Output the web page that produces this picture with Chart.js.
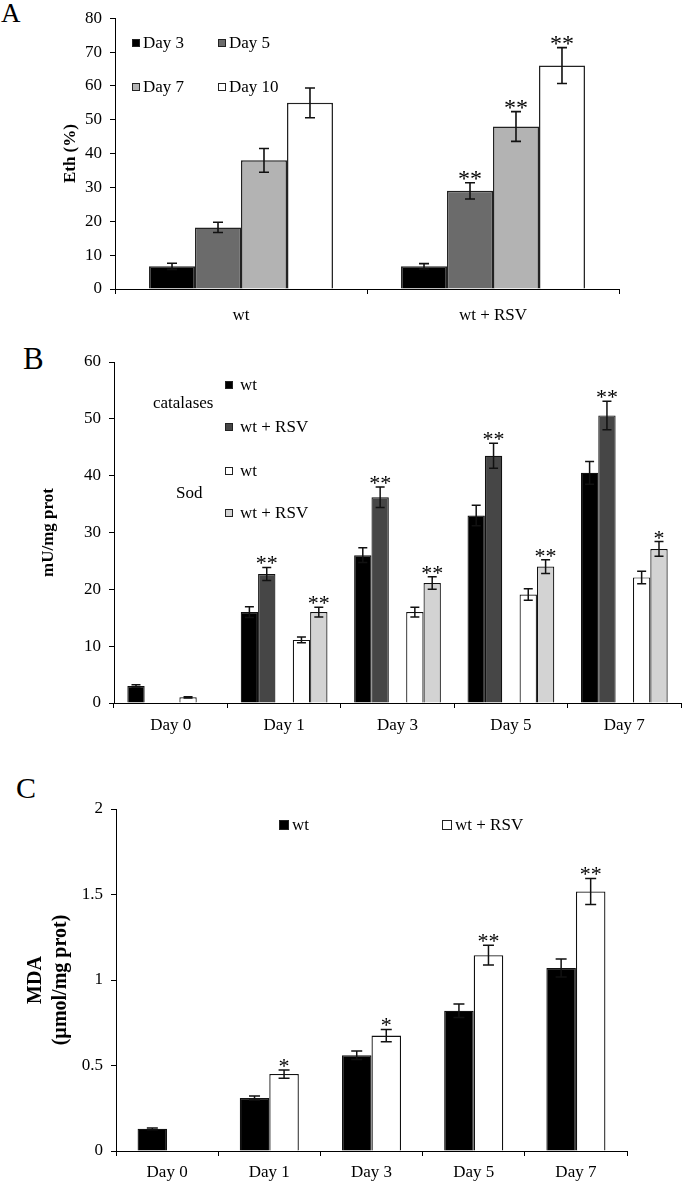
<!DOCTYPE html>
<html>
<head>
<meta charset="utf-8">
<script src="https://cdn.jsdelivr.net/npm/chart.js@4.4.1/dist/chart.umd.min.js"></script>
<style>
  body { margin: 0; background: #fff; }
  #page { position: relative; width: 683px; height: 1181px; overflow: hidden;
          font-family: "Liberation Serif", "Times New Roman", serif; color: #000; }
  canvas { position: absolute; left: 0; }
  .letter { position: absolute; line-height: 1; }
  .lg { position: absolute; display: flex; align-items: center; height: 20px;
        font-size: 17px; line-height: 20px; white-space: nowrap; }
  .sw { display: inline-block; box-sizing: border-box; border: 1px solid #222; }
  .note { position: absolute; font-size: 17px; line-height: 20px; white-space: nowrap; }
</style>
</head>
<body>
<div id="page">
  <div class="letter" style="left:1px;top:0px;font-size:27px;">A</div>
  <div class="letter" style="left:23px;top:343px;font-size:31px;">B</div>
  <div class="letter" style="left:16px;top:773px;font-size:30px;">C</div>
  <canvas id="chartA" width="683" height="330" style="top:0px"></canvas>
  <canvas id="chartB" width="683" height="405" style="top:335px"></canvas>
  <canvas id="chartC" width="683" height="436" style="top:745px"></canvas>
</div>
<script>
// ---------------------------------------------------------------------------
// Datos
// ---------------------------------------------------------------------------

// Panel A: Eth (%)
var aGroups = ['wt', 'wt + RSV'];
var aSeries = ['Day 3', 'Day 5', 'Day 7', 'Day 10'];
var aDay3 = [6.7, 6.7];
var aDay5 = [18.2, 29.0];
var aDay7 = [38.0, 48.0];
var aDay10 = [55.0, 66.0];
var aDay3Err = [0.9, 0.8];
var aDay5Err = [1.5, 2.4];
var aDay7Err = [3.5, 4.4];
var aDay10Err = [4.4, 5.3];
var aDay3Sig = ['', ''];
var aDay5Sig = ['', '**'];
var aDay7Sig = ['', '**'];
var aDay10Sig = ['', '**'];

// Panel B: mU/mg prot
var bDays = ['Day 0', 'Day 1', 'Day 3', 'Day 5', 'Day 7'];
var catWt = [3.0, 16.0, 26.0, 33.0, 40.5];
var catWtErr = [0.2, 0.95, 1.3, 1.8, 2.0];
var catRsv = [null, 22.7, 36.2, 43.5, 50.6];
var catRsvErr = [null, 1.15, 1.8, 2.2, 2.5];
var catRsvSig = ['', '**', '**', '**', '**'];
var sodWt = [1.0, 11.1, 16.0, 19.1, 22.1];
var sodWtErr = [0.1, 0.5, 0.85, 1.0, 1.1];
var sodRsv = [null, 16.0, 21.1, 24.0, 27.1];
var sodRsvErr = [null, 0.85, 1.1, 1.2, 1.3];
var sodRsvSig = ['', '**', '**', '**', '*'];

// Panel C: MDA (µmol/mg prot)
var cDays = ['Day 0', 'Day 1', 'Day 3', 'Day 5', 'Day 7'];
var mdaWt = [0.13, 0.31, 0.56, 0.82, 1.07];
var mdaWtErr = [0.005, 0.012, 0.025, 0.04, 0.053];
var mdaRsv = [null, 0.45, 0.675, 1.145, 1.518];
var mdaRsvErr = [null, 0.024, 0.036, 0.058, 0.076];
var mdaRsvSig = ['', '*', '*', '**', '**'];

// Colores
var aColors = ['#000000', '#6b6b6b', '#b3b3b3', '#ffffff'];
var bColors = { catWt: '#000000', catRsv: '#464646', sodWt: '#ffffff', sodRsv: '#d3d3d3' };
var cColors = ['#000000', '#ffffff'];

var FONT = '"Liberation Serif", "Times New Roman", serif';

// ---------------------------------------------------------------------------
// Plugin: barras de error + asteriscos de significación
// ---------------------------------------------------------------------------
var errorBars = {
    id: 'errorBars',
    afterDatasetsDraw: function (chart, args, opts) {
        var ctx = chart.ctx;
        var yScale = chart.scales.y;
        var cap = opts.cap || 10;
        chart.data.datasets.forEach(function (ds, i) {
            if (!ds.errors) return;
            var meta = chart.getDatasetMeta(i);
            meta.data.forEach(function (bar, j) {
                var v = ds.data[j];
                var e = ds.errors[j];
                if (v == null || e == null) return;
                var top = yScale.getPixelForValue(v + e);
                var bot = yScale.getPixelForValue(v - e);
                ctx.save();
                ctx.strokeStyle = '#111';
                ctx.lineWidth = opts.lineWidth || 1.5;
                ctx.beginPath();
                ctx.moveTo(bar.x, top); ctx.lineTo(bar.x, bot);
                ctx.moveTo(bar.x - cap / 2, top); ctx.lineTo(bar.x + cap / 2, top);
                ctx.moveTo(bar.x - cap / 2, bot); ctx.lineTo(bar.x + cap / 2, bot);
                ctx.stroke();
                if (ds.stars && ds.stars[j]) {
                    ctx.fillStyle = '#000';
                    ctx.font = (opts.starSize || 20) + 'px ' + FONT;
                    ctx.textAlign = 'center';
                    ctx.textBaseline = 'alphabetic';
                    ctx.fillText(ds.stars[j], bar.x, top + (opts.starShift || 1));
                }
                ctx.restore();
            });
        });
    }
};

// Config común de ejes (estilo Excel: marcas hacia fuera, sin rejilla)
function makeScales(o) {
    return {
        x: {
            grid: { offset: true, drawOnChartArea: false, drawTicks: true, tickLength: 5, color: '#000', lineWidth: 1 },
            border: { display: true, color: '#000', width: 1 },
            ticks: { color: '#000', font: { family: FONT, size: 17 }, padding: o.xPad },
            afterFit: function (scale) { scale.height = o.xHeight; }
        },
        y: {
            min: o.min, max: o.max,
            grid: { drawOnChartArea: false, drawTicks: true, tickLength: 5, color: '#000', lineWidth: 1 },
            border: { display: true, color: '#000', width: 1 },
            ticks: {
                stepSize: o.step, color: '#000', font: { family: FONT, size: 17 }, padding: 8,
                callback: function (v) { return String(v); }
            },
            title: {
                display: true, text: o.title, color: '#000',
                font: { family: FONT, size: o.titleSize || 16, weight: 'bold', lineHeight: o.titleLH || 1.2 },
                padding: { top: 0, bottom: 0 }
            },
            afterFit: function (scale) { scale.width = o.yWidth; }
        }
    };
}

function baseOptions(o) {
    return {
        responsive: false,
        animation: false,
        layout: { padding: o.padding },
        plugins: {
            legend: { display: false },
            tooltip: { enabled: false },
            errorBars: o.err
        },
        scales: makeScales(o)
    };
}

// ---------------------------------------------------------------------------
// Panel A
// ---------------------------------------------------------------------------
var aVals = [aDay3, aDay5, aDay7, aDay10];
var aErrs = [aDay3Err, aDay5Err, aDay7Err, aDay10Err];
var aSigs = [aDay3Sig, aDay5Sig, aDay7Sig, aDay10Sig];

new Chart(document.getElementById('chartA').getContext('2d'), {
    type: 'bar',
    data: {
        labels: aGroups,
        datasets: aSeries.map(function (name, k) {
            return {
                label: name, data: aVals[k], errors: aErrs[k], stars: aSigs[k],
                backgroundColor: aColors[k], borderColor: '#222', borderWidth: 1.5,
                categoryPercentage: 0.73, barPercentage: 1
            };
        })
    },
    options: baseOptions({
        padding: { left: 60, right: 64, top: 17, bottom: 0 },
        min: 0, max: 80, step: 10, title: 'Eth (%)', titleSize: 17,
        yWidth: 55, xHeight: 41, xPad: 11,
        err: { cap: 10, lineWidth: 1.6, starSize: 24, starShift: 3.5 }
    }),
    plugins: [errorBars]
});

// ---------------------------------------------------------------------------
// Panel B (hueco vacío entre catalasas y Sod)
// ---------------------------------------------------------------------------
function barB(label, data, err, sig, color) {
    return {
        label: label, data: data, errors: err, stars: sig,
        backgroundColor: color, borderColor: '#111', borderWidth: 1.2,
        categoryPercentage: 0.765, barPercentage: 1
    };
}

new Chart(document.getElementById('chartB').getContext('2d'), {
    type: 'bar',
    data: {
        labels: bDays,
        datasets: [
            barB('catalases wt', catWt, catWtErr, null, bColors.catWt),
            barB('catalases wt + RSV', catRsv, catRsvErr, catRsvSig, bColors.catRsv),
            barB('', bDays.map(function () { return null; }), null, null, 'rgba(0,0,0,0)'),
            barB('Sod wt', sodWt, sodWtErr, null, bColors.sodWt),
            barB('Sod wt + RSV', sodRsv, sodRsvErr, sodRsvSig, bColors.sodRsv)
        ]
    },
    options: baseOptions({
        padding: { left: 38, right: 2, top: 27, bottom: 0 },
        min: 0, max: 60, step: 10, title: 'mU/mg prot', titleSize: 17,
        yWidth: 76, xHeight: 37, xPad: 7,
        err: { cap: 9, lineWidth: 1.5, starSize: 22, starShift: 3 }
    }),
    plugins: [errorBars]
});

// ---------------------------------------------------------------------------
// Panel C
// ---------------------------------------------------------------------------
new Chart(document.getElementById('chartC').getContext('2d'), {
    type: 'bar',
    data: {
        labels: cDays,
        datasets: [
            { label: 'wt', data: mdaWt, errors: mdaWtErr, backgroundColor: cColors[0],
              borderColor: '#111', borderWidth: 1.3, categoryPercentage: 0.578, barPercentage: 1 },
            { label: 'wt + RSV', data: mdaRsv, errors: mdaRsvErr, stars: mdaRsvSig, backgroundColor: cColors[1],
              borderColor: '#111', borderWidth: 1.3, categoryPercentage: 0.578, barPercentage: 1 }
        ]
    },
    options: baseOptions({
        padding: { left: 23, right: 56, top: 64, bottom: 0 },
        min: 0, max: 2, step: 0.5, title: ['MDA', '(\u00b5mol/mg prot)'],
        titleSize: 20, titleLH: 1.25,
        yWidth: 93, xHeight: 30, xPad: 6,
        err: { cap: 11, lineWidth: 1.5, starSize: 22, starShift: 3 }
    }),
    plugins: [errorBars]
});

// ---------------------------------------------------------------------------
// Leyendas (HTML superpuesto)
// ---------------------------------------------------------------------------
var page = document.getElementById('page');
function legendItem(x, cy, size, gap, color, text) {
    var d = document.createElement('div');
    d.className = 'lg';
    d.style.left = x + 'px';
    d.style.top = (cy - 10) + 'px';
    var s = document.createElement('span');
    s.className = 'sw';
    s.style.width = size + 'px';
    s.style.height = size + 'px';
    s.style.background = color;
    s.style.marginRight = gap + 'px';
    d.appendChild(s);
    d.appendChild(document.createTextNode(text));
    page.appendChild(d);
}
function note(x, cy, text) {
    var d = document.createElement('div');
    d.className = 'note';
    d.style.left = x + 'px';
    d.style.top = (cy - 10) + 'px';
    d.textContent = text;
    page.appendChild(d);
}

legendItem(132, 43, 8, 3, aColors[0], aSeries[0]);
legendItem(218, 43, 8, 3, aColors[1], aSeries[1]);
legendItem(132, 87, 8, 3, aColors[2], aSeries[2]);
legendItem(218, 87, 8, 3, aColors[3], aSeries[3]);

legendItem(225, 385, 8, 7, bColors.catWt, 'wt');
legendItem(225, 427, 8, 7, bColors.catRsv, 'wt + RSV');
legendItem(225, 471, 8, 7, bColors.sodWt, 'wt');
legendItem(225, 513, 8, 7, bColors.sodRsv, 'wt + RSV');
note(153, 403, 'catalases');
note(176, 493, 'Sod');

legendItem(279, 825, 10, 3, cColors[0], 'wt');
legendItem(442, 825, 10, 3, cColors[1], 'wt + RSV');
</script>
</body>
</html>
